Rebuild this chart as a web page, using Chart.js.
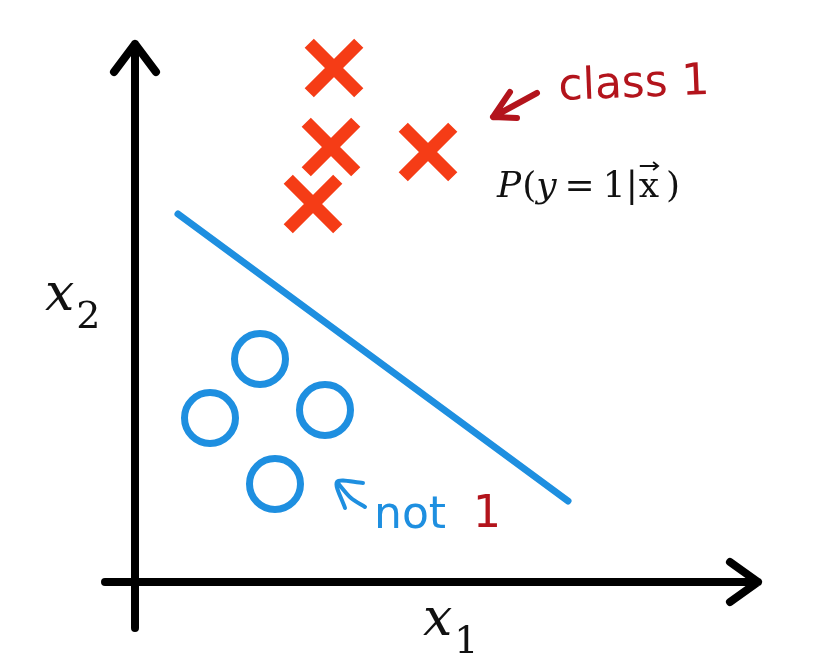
<!DOCTYPE html>
<html>
<head>
<meta charset="utf-8">
<script src="https://cdn.jsdelivr.net/npm/chart.js@4.4.1/dist/chart.umd.min.js"></script>
<style>
  html, body { margin: 0; padding: 0; background: #ffffff; }
  #wrap { width: 829px; height: 668px; position: relative; }
</style>
</head>
<body>
<div id="wrap"><canvas id="chart"></canvas></div>
<script>
// data units: 1 unit = 100px, origin where the axes cross
const class1X = [1.99, 1.96, 2.93, 1.78];
const class1Y = [5.14, 4.35, 4.30, 3.78];
const not1X = [1.25, 0.75, 1.90, 1.40];
const not1Y = [2.23, 1.64, 1.72, 0.98];
const boundaryX = [0.43, 4.33];
const boundaryY = [3.68, 0.81];

// axes with their arrowheads (null breaks the stroke)
const axisX = [0, 0, null, -0.21, 0, 0.21, null, -0.30, 6.23, null, 5.95, 6.23, 5.95];
const axisY = [-0.46, 5.38, null, 5.10, 5.38, 5.10, null, 0, 0, null, 0.20, 0, -0.20];

// small hand-drawn pointer arrows
const redArrowX = [4.02, 3.58, null, 3.75, 3.58, 3.82];
const redArrowY = [4.89, 4.65, null, 4.90, 4.65, 4.64];
const blueArrowX = [2.30, 2.16, 2.02, null, 2.28, 2.02, 2.10];
const blueArrowY = [0.75, 0.84, 1.00, null, 0.99, 1.00, 0.74];

function pts(xs, ys) {
  return xs.map((x, i) => (x === null ? { x: NaN, y: null } : { x: x, y: ys[i] }));
}

const RED = '#f53c16';
const BLUE = '#1e8fe0';
const DARKRED = '#b3141c';

const labels = {
  id: 'labels',
  afterDatasetsDraw(chart) {
    const ctx = chart.ctx;
    const sx = chart.scales.x, sy = chart.scales.y;
    const px = v => sx.getPixelForValue(v);
    const py = v => sy.getPixelForValue(v);

    function runs(x, y, parts) {
      let cx = x;
      parts.forEach(p => {
        ctx.font = p.font;
        ctx.fillStyle = p.color || '#111';
        ctx.fillText(p.t, cx, y + (p.dy || 0));
        cx += ctx.measureText(p.t).width + (p.gap || 0);
      });
      return cx;
    }

    ctx.save();
    ctx.textBaseline = 'alphabetic';
    ctx.textAlign = 'left';

    // axis names
    runs(px(2.88), py(-0.53), [
      { t: 'x', font: 'italic 52px "DejaVu Serif"', gap: 2 },
      { t: '1', font: '38px "DejaVu Serif"', dy: 18 }
    ]);
    runs(px(-0.90), py(2.72), [
      { t: 'x', font: 'italic 52px "DejaVu Serif"', gap: 2 },
      { t: '2', font: '38px "DejaVu Serif"', dy: 18 }
    ]);

    // P(y = 1|x)
    const bx = px(3.62), by = py(3.85);
    const serif = '36px "DejaVu Serif"';
    const it = 'italic 36px "DejaVu Serif"';
    let cx = runs(bx, by, [
      { t: 'P', font: it, gap: 1 },
      { t: '(', font: serif },
      { t: 'y', font: it, gap: 8 },
      { t: '=', font: serif, gap: 8 },
      { t: '1|', font: serif, gap: 1 }
    ]);
    ctx.font = serif;
    const xw = ctx.measureText('x').width;
    ctx.fillText('x', cx, by);
    ctx.strokeStyle = '#111';
    ctx.lineWidth = 1.8;
    ctx.beginPath();
    ctx.moveTo(cx + 1, by - 31); ctx.lineTo(cx + xw - 1, by - 31);
    ctx.moveTo(cx + xw - 6, by - 35); ctx.lineTo(cx + xw - 1, by - 31); ctx.lineTo(cx + xw - 6, by - 27);
    ctx.stroke();
    ctx.fillText(')', cx + xw + 7, by);

    // hand-written notes
    ctx.save();
    ctx.translate(px(4.24), py(4.82));
    ctx.rotate(-0.04);
    ctx.font = '44px "DejaVu Sans"';
    ctx.fillStyle = DARKRED;
    ctx.fillText('class 1', 0, 0);
    ctx.restore();

    ctx.font = '44px "DejaVu Sans"';
    ctx.fillStyle = BLUE;
    ctx.fillText('not', px(2.39), py(0.54));
    ctx.fillStyle = DARKRED;
    ctx.fillText('1', px(3.38), py(0.55));
    ctx.restore();
  }
};

new Chart(document.getElementById('chart'), {
  type: 'scatter',
  data: {
    datasets: [
      {
        label: 'axes',
        data: pts(axisX, axisY),
        showLine: true, spanGaps: false,
        borderColor: '#000', borderWidth: 8,
        borderCapStyle: 'round', borderJoinStyle: 'round',
        pointRadius: 0
      },
      {
        label: 'boundary',
        data: pts(boundaryX, boundaryY),
        showLine: true,
        borderColor: BLUE, borderWidth: 7, borderCapStyle: 'round',
        pointRadius: 0
      },
      {
        label: 'class 1',
        data: pts(class1X, class1Y),
        pointStyle: 'crossRot', pointRadius: 35,
        borderColor: RED, borderWidth: 13
      },
      {
        label: 'not 1',
        data: pts(not1X, not1Y),
        pointStyle: 'circle', pointRadius: 25.5,
        borderColor: BLUE, backgroundColor: 'rgba(0,0,0,0)', borderWidth: 7
      },
      {
        label: 'red arrow',
        data: pts(redArrowX, redArrowY),
        showLine: true, spanGaps: false,
        borderColor: DARKRED, borderWidth: 6,
        borderCapStyle: 'round', borderJoinStyle: 'round', pointRadius: 0
      },
      {
        label: 'blue arrow',
        data: pts(blueArrowX, blueArrowY),
        showLine: true, spanGaps: false, tension: 0.3,
        borderColor: BLUE, borderWidth: 4,
        borderCapStyle: 'round', borderJoinStyle: 'round', pointRadius: 0
      }
    ]
  },
  options: {
    responsive: true,
    maintainAspectRatio: false,
    animation: false,
    layout: { padding: 0, autoPadding: false },
    plugins: { legend: { display: false }, tooltip: { enabled: false } },
    scales: {
      x: { type: 'linear', min: -1.35, max: 6.94, display: false },
      y: { type: 'linear', min: -0.86, max: 5.82, display: false }
    }
  },
  plugins: [labels]
});
</script>
</body>
</html>
